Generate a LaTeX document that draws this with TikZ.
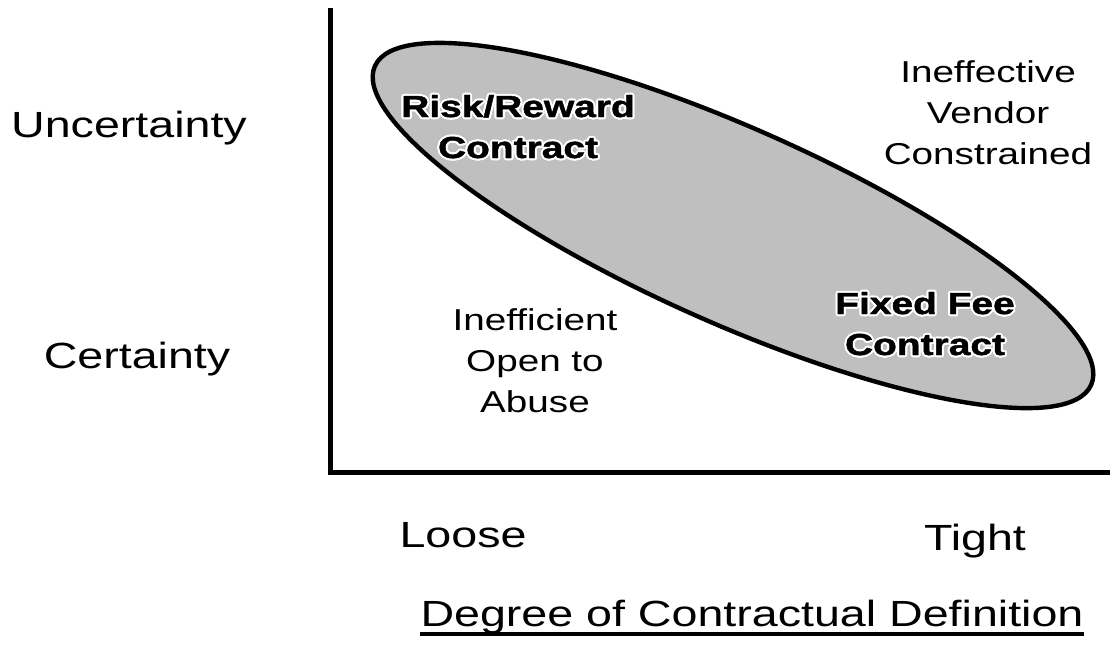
\documentclass[tikz,border=0pt]{standalone}
\usepackage{fontspec}
\setmainfont[FakeStretch=1.28]{Liberation Sans}
\newfontfamily\heavyfont[FakeStretch=1.28,BoldFeatures={FakeBold=1.5}]{Liberation Sans}
\usepackage[copies]{contour}
\contourlength{1pt}
\newcommand{\halo}[1]{\contour{white}{#1}}
\usepackage{tikz}
\tikzset{
  axislabel/.style={font={\fontsize{18.2pt}{22pt}\selectfont}, anchor=base},
  zonelabel/.style={font={\fontsize{15.1pt}{20.5pt}\selectfont}, align=center, anchor=base},
  dealtype/.style={font={\heavyfont\bfseries\fontsize{15.2pt}{20.5pt}\selectfont}, align=center, anchor=base}}

\begin{document}
\begin{tikzpicture}[x=5pt,y=5pt]
\tikzstyle{every node}+=[inner sep=0pt]
\useasboundingbox (0,0) rectangle (111.2,-64.9);
% band of contract types
\coordinate (mid) at (73.3,-22.55);
\draw [black, line width=2.2pt, fill=black!25, rotate around={-24:(mid)}] (mid) ellipse (39.2 and 9.74);
% axes
\coordinate (top) at (33,-0.8);
\coordinate (origin) at (33,-47.2);
\coordinate (right) at (111,-47.2);
\draw [black, line width=2.5pt] (top) -- (origin) -- (right);
% vertical axis
\node [axislabel] (uncert) at (12.9,-13.7) {Uncertainty};
\node [axislabel] (cert) at (13.7,-36.8) {Certainty};
% horizontal axis
\node [axislabel] (loose) at (46.3,-54.7) {Loose};
\node [axislabel] (tight) at (97.5,-55) {Tight};
\node [axislabel] (degree) at (75.2,-62.6) {Degree of Contractual Definition};
\draw [black, line width=1.6pt] ([yshift=-4pt]degree.base west) -- ([yshift=-4pt]degree.base east);
% quadrants (base is the last line)
\node [zonelabel] (ineffective) at (98.8,-16.4) {Ineffective\\Vendor\\Constrained};
\node [zonelabel] (inefficient) at (53.5,-41.2) {Inefficient\\Open to\\Abuse};
% contracts, white rim round the letters
\node [dealtype] (riskreward) at (51.8,-15.8) {\halo{Risk/Reward}\\\halo{Contract}};
\node [dealtype] (fixedfee) at (92.5,-35.5) {\halo{Fixed Fee}\\\halo{Contract}};
\end{tikzpicture}
\end{document}
